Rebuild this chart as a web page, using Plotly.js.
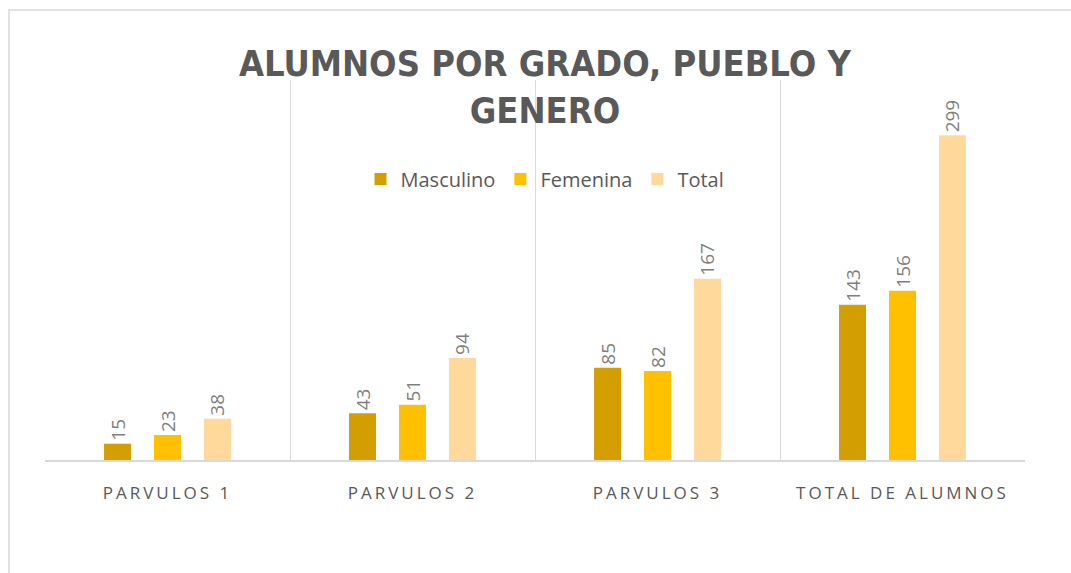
<!DOCTYPE html>
<html>
<head>
<meta charset="utf-8">
<script src="https://cdn.plot.ly/plotly-3.0.1.min.js"></script>
<style>
html,body{margin:0;padding:0;background:#fff;}
#chart{width:1071px;height:573px;}
#chart .xtick text{letter-spacing:3px;}
</style>
</head>
<body>
<div id="chart"></div>
<script>
const categories = ['PARVULOS 1', 'PARVULOS 2', 'PARVULOS 3', 'TOTAL DE ALUMNOS'];
const masculino = [15, 43, 85, 143];
const femenina = [23, 51, 82, 156];
const total = [38, 94, 167, 299];
const seriesNames = ['Masculino', 'Femenina', 'Total'];
const seriesColors = ['#D29E00', '#FFC000', '#FFD89C'];
const seriesValues = [masculino, femenina, total];

const traces = seriesValues.map((vals, i) => ({
  type: 'bar',
  name: seriesNames[i],
  x: categories,
  y: vals,
  text: vals.map(String),
  textposition: 'outside',
  textangle: -90,
  constraintext: 'none',
  cliponaxis: false,
  textfont: {family: 'Open Sans, sans-serif', size: 19, color: '#7F7F7F'},
  marker: {color: seriesColors[i]},
  hoverinfo: 'x+y+name'
}));

const layout = {
  width: 1071,
  height: 573,
  margin: {l: 45, r: 46, t: 80, b: 113},
  paper_bgcolor: '#ffffff',
  plot_bgcolor: '#ffffff',
  barmode: 'group',
  bargap: 0.388,
  bargroupgap: 0.46,
  title: {
    text: 'ALUMNOS POR GRADO, PUEBLO Y<br>GENERO',
    font: {family: 'DejaVu Sans Condensed, sans-serif', size: 36, color: '#595959', weight: 'bold'},
    x: 545 / 1071,
    xanchor: 'center',
    yref: 'container',
    y: 1 - 76 / 573,
    yanchor: 'top'
  },
  showlegend: true,
  legend: {
    orientation: 'h',
    x: (545 - 45) / 980,
    xanchor: 'center',
    y: (460 - 179) / 380,
    yanchor: 'middle',
    bgcolor: 'rgba(0,0,0,0)',
    font: {family: 'Open Sans, sans-serif', size: 20, color: '#595959'},
    traceorder: 'normal'
  },
  xaxis: {
    type: 'category',
    tickson: 'boundaries',
    showgrid: true,
    gridcolor: '#D9D9D9',
    gridwidth: 1,
    showline: true,
    linecolor: '#D9D9D9',
    linewidth: 1.5,
    ticks: '',
    ticklen: 0,
    ticklabelstandoff: 17,
    tickfont: {family: 'Open Sans, sans-serif', size: 17, color: '#595959'},
    zeroline: false,
    fixedrange: true
  },
  yaxis: {
    range: [0, 350],
    showgrid: false,
    showticklabels: false,
    zeroline: false,
    showline: false,
    ticks: '',
    fixedrange: true
  },
  shapes: [{
    type: 'rect',
    xref: 'paper', yref: 'paper',
    x0: (9 - 45) / 980, x1: (1090 - 45) / 980,
    y0: (460 - 600) / 380, y1: (460 - 10) / 380,
    line: {color: '#D9D9D9', width: 1.5},
    fillcolor: 'rgba(0,0,0,0)',
    layer: 'below'
  }]
};

Plotly.newPlot('chart', traces, layout, {displayModeBar: false});
</script>
</body>
</html>
